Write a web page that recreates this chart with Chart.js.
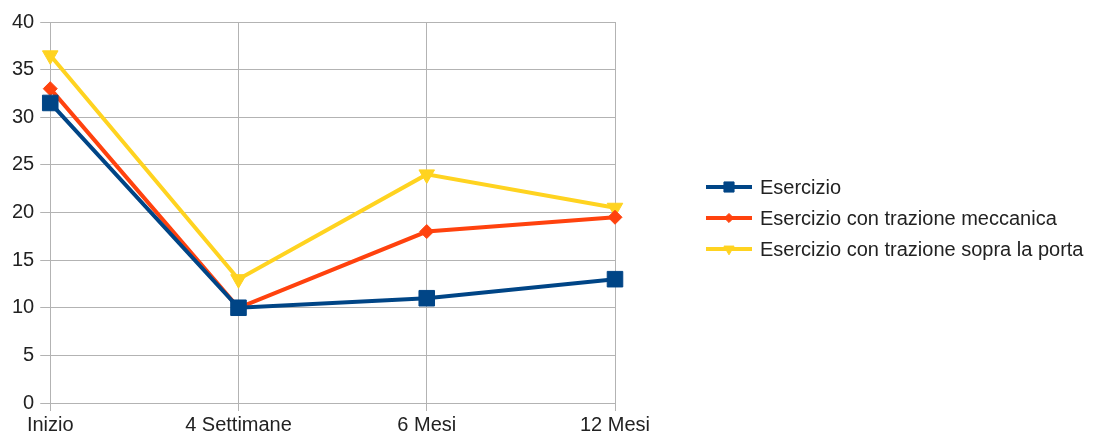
<!DOCTYPE html>
<html>
<head>
<meta charset="utf-8">
<script src="https://cdn.jsdelivr.net/npm/chart.js@4"></script>
<style>
  html, body { margin: 0; padding: 0; background: #fff; }
  #wrap { width: 1109px; height: 439px; }
</style>
</head>
<body>
<div id="wrap"><canvas id="myChart" width="1109" height="439"></canvas></div>
<script>
/* Data */
const categories = ["Inizio", "4 Settimane", "6 Mesi", "12 Mesi"];
const esercizio = [31.5, 10, 11, 13];
const meccanica = [33, 10, 18, 19.5];
const porta = [36.5, 13, 24, 20.5];
const seriesNames = [
  "Esercizio",
  "Esercizio con trazione meccanica",
  "Esercizio con trazione sopra la porta",
];

const textColor = "#222";
const gridColor = "#b3b3b3";
Chart.defaults.font.family = "'Liberation Sans', Arial, sans-serif";
Chart.defaults.font.size = 20;
Chart.defaults.color = textColor;

function lineSet(label, data, color, style, radius, rotation) {
  return {
    label: label,
    data: data,
    borderColor: color,
    backgroundColor: color,
    pointBackgroundColor: color,
    pointBorderColor: color,
    pointBorderWidth: 1,
    pointStyle: style,
    pointRadius: radius,
    pointHoverRadius: radius,
    pointRotation: rotation,
    borderWidth: 4,
    tension: 0,
  };
}

/* Custom legend: line + marker, like the original */
const sideLegend = {
  id: "sideLegend",
  afterDraw(chart) {
    const ctx = chart.ctx;
    const x0 = 706;
    const lineW = 46;
    const y0 = 187;
    const step = 31;
    chart.data.datasets.forEach((ds, i) => {
      const y = y0 + i * step;
      ctx.save();
      ctx.strokeStyle = ds.borderColor;
      ctx.lineWidth = 4;
      ctx.beginPath();
      ctx.moveTo(x0, y);
      ctx.lineTo(x0 + lineW, y);
      ctx.stroke();
      ctx.fillStyle = ds.pointBackgroundColor;
      ctx.lineWidth = 1;
      Chart.helpers.drawPoint(
        ctx,
        {
          pointStyle: ds.pointStyle,
          rotation: ds.pointRotation,
          radius: ds.pointRadius * 0.65,
          borderWidth: 1,
        },
        x0 + lineW / 2,
        y
      );
      ctx.fillStyle = textColor;
      ctx.font = "20px 'Liberation Sans', Arial, sans-serif";
      ctx.textBaseline = "middle";
      ctx.fillText(ds.label, x0 + lineW + 8, y + 1);
      ctx.restore();
    });
  },
};

const ctx = document.getElementById("myChart").getContext("2d");

const data = {
  labels: categories,
  datasets: [
    lineSet(seriesNames[0], esercizio, "#004586", "rect", 11, 0),
    lineSet(seriesNames[1], meccanica, "#ff420e", "rectRot", 7, 0),
    lineSet(seriesNames[2], porta, "#ffd320", "triangle", 9, 180),
  ],
};

const config = {
  type: "line",
  data: data,
  options: {
    responsive: false,
    animation: false,
    layout: {
      padding: { left: 6, right: 494, top: 22, bottom: 0 },
    },
    plugins: {
      legend: { display: false },
      tooltip: { enabled: false },
    },
    scales: {
      x: {
        offset: false,
        grid: {
          color: gridColor,
          lineWidth: 1,
          tickLength: 8,
          drawTicks: true,
        },
        border: { color: gridColor },
        ticks: { padding: 2, maxRotation: 0 },
      },
      y: {
        min: 0,
        max: 40,
        grid: {
          color: gridColor,
          lineWidth: 1,
          tickLength: 10,
        },
        border: { color: gridColor },
        ticks: { stepSize: 5, padding: 6 },
      },
    },
  },
  plugins: [sideLegend],
};

const myChart = new Chart(ctx, config);
</script>
</body>
</html>
